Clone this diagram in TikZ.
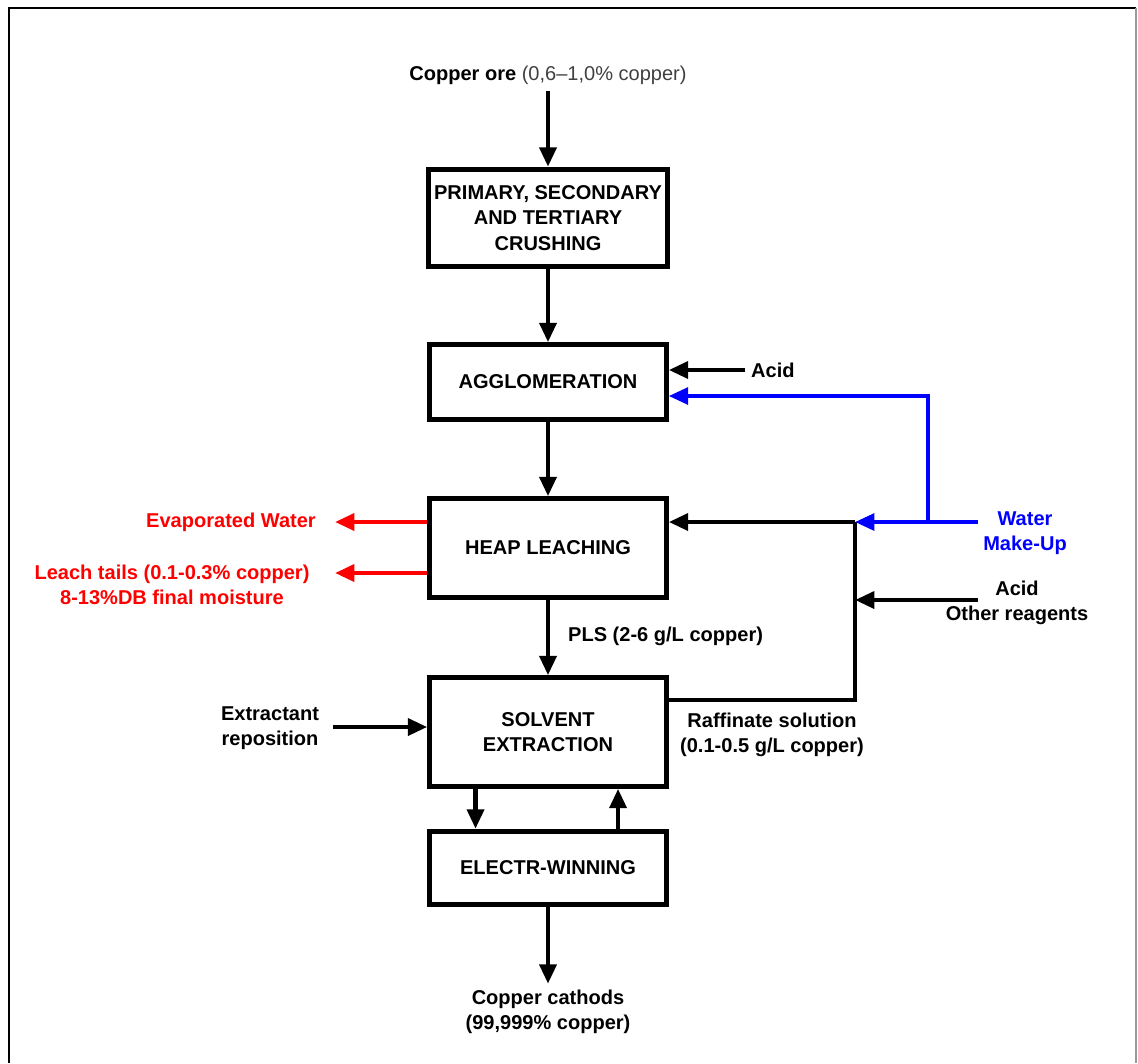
\documentclass[tikz,border=0pt]{standalone}
\usepackage{fontspec}
\setmainfont{Liberation Sans}
\usetikzlibrary{arrows.meta, calc}
\tikzset{
  box/.style={draw, line width=2.9pt, minimum width=4.73cm, align=center,
    font=\bfseries\fontsize{11.4}{14.5}\selectfont},
  lbl/.style={align=center, font=\bfseries\fontsize{11.4}{14.5}\selectfont},
  arr/.style={line width=2.5pt, -{Triangle[length=11pt,width=9.5pt]}},
  flow/.style={line width=2.5pt},
}
\begin{document}
\begin{tikzpicture}[x=0.02cm, y=-0.02cm]
\useasboundingbox (0,0) rectangle (1138,1063);
% frame
\draw[line width=1.3pt] (9,1063) -- (9,8) -- (1136,8);
\draw[black!40, line width=0.8pt] (1136,8) -- (1136,1063);
% process boxes
\node[box, minimum height=1.95cm] (crush) at (548,218) {PRIMARY, SECONDARY\\AND TERTIARY\\CRUSHING};
\node[box, minimum height=1.49cm] (agg) at (548,382) {AGGLOMERATION};
\node[box, minimum height=1.97cm] (heap) at (548,548) {HEAP LEACHING};
\node[box, minimum height=2.17cm] (sx) at (548,732) {SOLVENT\\EXTRACTION};
\node[box, minimum height=1.47cm] (ew) at (548,868) {ELECTR-WINNING};
% labels
\node[lbl] (ore) at (548,75) {Copper ore {\mdseries\color{black!75}(0,6--1,0\% copper)}};
\node[lbl] (cath) at (548,1012) {Copper cathods\\(99,999\% copper)};
\node[lbl, anchor=west] (acid1) at (745,370) {Acid};
\node[lbl, anchor=west] (pls) at (562,636) {PLS (2-6 g/L copper)};
\node[lbl] (raff) at (772,735) {Raffinate solution\\(0.1-0.5 g/L copper)};
\node[lbl] (extr) at (270,728) {Extractant\\reposition};
\node[lbl, text=blue] (water) at (1025,533) {Water\\Make-Up};
\node[lbl] (acid2) at (1017,603) {Acid\\Other reagents};
\node[lbl, text=red, anchor=east] (evap) at (322,522) {Evaporated Water};
\node[lbl, text=red] (tails) at (172,585) {Leach tails (0.1-0.3\% copper)\\8-13\%DB final moisture};
% junctions and free ends
\coordinate (wm) at (978,522);
\coordinate (ar) at (978,600);
\coordinate (jw) at (928,522);
\coordinate (jw2) at (928,396);
\coordinate (jr) at (855,522);
\coordinate (ra) at (855,700);
\coordinate (ev) at (335,522);
\coordinate (lt) at (335,573);
\coordinate (ex) at (333,727);
% main flow
\draw[arr] (ore) -- (crush);
\draw[arr] (crush) -- (agg);
\draw[arr] (agg) -- (heap);
\draw[arr] (heap) -- (sx);
\draw[arr] ($(sx.south west)!.2!(sx.south east)$) -- ($(ew.north west)!.2!(ew.north east)$);
\draw[arr] ($(ew.north west)!.79!(ew.north east)$) -- ($(sx.south west)!.79!(sx.south east)$);
\draw[arr] (ew) -- (cath);
% side streams
\draw[arr] (acid1.west) -- (acid1.west -| agg.east);
\draw[arr] (ex) -- (ex -| sx.west);
\draw[flow] (sx.east |- ra) -- (ra) -- (jr);
\draw[arr] (jr) -- (jr -| heap.east);
\draw[arr] (ar) -- (ar -| jr);
\draw[arr, blue, line width=2.2pt] (wm) -- (jr);
\draw[arr, blue, line width=2.2pt] (jw) -- (jw2) -- (jw2 -| agg.east);
\draw[arr, red] (ev -| heap.west) -- (ev);
\draw[arr, red] (lt -| heap.west) -- (lt);
\end{tikzpicture}
\end{document}
